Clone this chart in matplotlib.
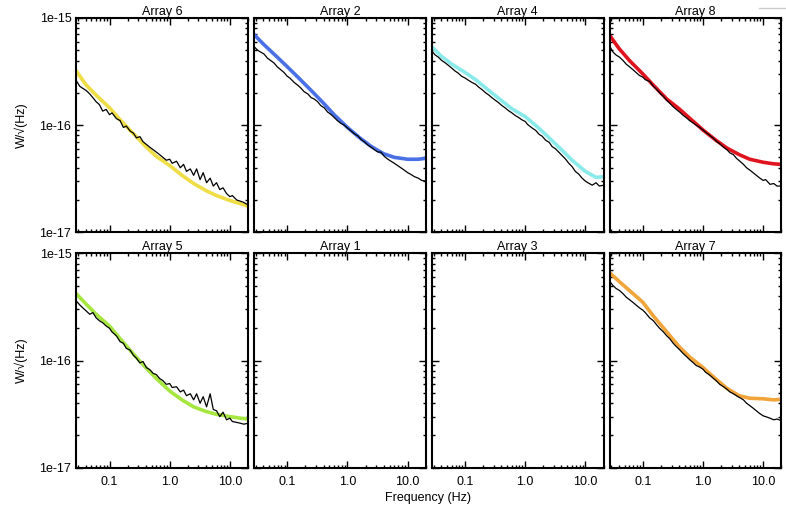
import numpy as np
import matplotlib
matplotlib.use("Agg")
import matplotlib.pyplot as plt
from matplotlib.ticker import FixedLocator, FixedFormatter, LogLocator, NullFormatter
from matplotlib.lines import Line2D

plt.rcParams['font.family'] = ['Liberation Sans', 'DejaVu Sans']

# frequency grid of the measured spectra (Hz)
freq = [0.028, 0.032, 0.036, 0.041, 0.047, 0.053, 0.06, 0.068, 0.077, 0.088,
        0.1, 0.11, 0.13, 0.15, 0.17, 0.19, 0.22, 0.25, 0.28, 0.32,
        0.36, 0.41, 0.47, 0.53, 0.6, 0.68, 0.77, 0.88, 1.0, 1.1,
        1.3, 1.5, 1.7, 1.9, 2.2, 2.5, 2.8, 3.2, 3.6, 4.1,
        4.7, 5.3, 6.0, 6.8, 7.7, 8.8, 10, 11, 13, 15, 17, 20]

# frequency grid of the model fits (Hz)
fit_freq = [0.028, 0.04, 0.06, 0.1, 0.15, 0.25, 0.4, 0.6, 1.0, 1.6, 2.5, 4, 6, 10, 15, 20]

# measured noise, units of 1e-17 W/sqrt(Hz)
meas6 = [26, 23, 22, 21, 19.5, 18, 16.5, 15.5, 13.5, 14,
         12.5, 13, 11.5, 11, 9.5, 9.8, 8.8, 8.4, 7.6, 7.8,
         7.0, 6.6, 6.2, 5.9, 5.6, 5.3, 5.0, 4.7, 4.8, 4.4,
         4.6, 4.0, 4.3, 3.7, 3.9, 3.4, 3.9, 3.1, 3.6, 2.9,
         3.2, 2.7, 2.9, 2.5, 2.6, 2.3, 2.15, 2.2, 2.0, 1.95, 1.9, 1.8]
meas2 = [54, 50, 48, 46, 42, 40, 38, 35, 33, 31,
         28.5, 27.5, 25, 23.5, 22, 20.5, 19.5, 18, 17.5, 16.5,
         15.2, 14.5, 13.2, 12.6, 11.8, 11.0, 10.4, 10.0, 9.4, 9.0,
         8.3, 7.9, 7.3, 7.0, 6.5, 6.2, 5.9, 5.6, 5.6, 5.1,
         4.8, 4.6, 4.4, 4.2, 4.0, 3.8, 3.6, 3.5, 3.3, 3.2, 3.05, 3.0]
meas4 = [49, 45, 43, 40, 38, 36, 34, 32, 30.5, 28.5,
         27.5, 26.5, 25, 24, 22.5, 21.5, 20, 19, 18, 17,
         16.2, 15.2, 14.4, 13.6, 13.0, 12.3, 11.8, 11.2, 10.8, 10.1,
         9.4, 8.9, 8.2, 7.9, 7.2, 6.9, 6.3, 6.0, 5.6, 5.2,
         4.8, 4.4, 4.1, 3.7, 3.5, 3.2, 3.0, 2.9, 2.75, 2.9, 2.7, 2.75]
meas8 = [55, 48, 45, 43, 40, 37, 35, 33, 31, 29,
         28, 26.5, 25.5, 23, 21.5, 20, 18.5, 17, 16, 14.8,
         14, 13.2, 12.3, 11.7, 11.0, 10.5, 10.0, 9.5, 9.0, 8.6,
         8.0, 7.5, 7.0, 6.7, 6.2, 5.9, 5.5, 5.3, 4.9, 4.6,
         4.3, 4.0, 3.8, 3.6, 3.4, 3.2, 3.05, 3.1, 2.8, 2.85, 2.7, 2.7]
meas5 = [36, 33, 31, 29, 27, 28, 25, 23.5, 22.5, 21,
         20, 18.5, 17, 15, 14.5, 13, 12.5, 11.2, 10.5, 9.5,
         9.8, 8.6, 8.2, 7.6, 7.4, 6.8, 6.5, 6.0, 6.1, 5.6,
         5.7, 5.1, 5.3, 4.7, 4.9, 4.3, 4.9, 4.0, 4.6, 3.7,
         4.9, 3.5, 3.4, 3.0, 3.3, 2.8, 2.9, 2.7, 2.65, 2.6, 2.55, 2.6]
meas7 = [55, 50, 47, 45, 42, 39, 37, 35, 33, 31,
         29.5, 28, 25, 23.5, 21.5, 20, 18.5, 17, 16, 14.5,
         13.5, 12.6, 11.6, 10.9, 10.2, 9.6, 9.0, 8.7, 8.3, 7.8,
         7.3, 6.8, 6.4, 6.0, 5.7, 5.4, 5.1, 4.9, 4.7, 4.5,
         4.3, 4.0, 3.8, 3.6, 3.4, 3.2, 3.05, 3.0, 2.9, 2.8, 2.85, 2.75]

# model fits, units of 1e-17 W/sqrt(Hz)
fit6 = [32, 24, 19, 14.5, 11.2, 8.3, 6.3, 5.1, 4.2, 3.4, 2.85, 2.45, 2.2, 1.98, 1.85, 1.75]
fit2 = [70, 57, 46, 35, 28, 21, 16, 12.5, 9.5, 7.6, 6.3, 5.4, 5.0, 4.8, 4.8, 4.9]
fit4 = [54, 44, 37, 31, 26.5, 21, 17, 14.2, 12, 9.6, 7.6, 5.9, 4.7, 3.7, 3.25, 3.3]
fit8 = [69, 52, 40, 30, 23.5, 17.5, 14.2, 11.6, 9.0, 7.3, 6.1, 5.3, 4.8, 4.5, 4.35, 4.3]
fit5 = [42, 34, 27, 21, 16, 11.5, 8.6, 6.8, 5.2, 4.3, 3.7, 3.35, 3.15, 3.0, 2.9, 2.85]
fit7 = [66, 55, 45, 35, 26, 18.5, 13.5, 10.8, 8.6, 6.8, 5.5, 4.7, 4.45, 4.4, 4.3, 4.35]

titles = ["Array 6", "Array 2", "Array 4", "Array 8",
          "Array 5", "Array 1", "Array 3", "Array 7"]
measured = [meas6, meas2, meas4, meas8, meas5, None, None, meas7]
fits = [fit6, fit2, fit4, fit8, fit5, None, None, fit7]
colors = ["#eedd44", "#4a70e6", "#8aeaea", "#e0141e",
          "#a6e640", None, None, "#f0a43a"]

fig, axes = plt.subplots(2, 4, figsize=(7.86, 5.25), dpi=100)
fig.subplots_adjust(left=0.097, right=0.994, top=0.966, bottom=0.109,
                    wspace=0.035, hspace=0.098)

for i, ax in enumerate(axes.flat):
    ax.set_xscale('log')
    ax.set_yscale('log')
    if fits[i] is not None:
        ax.plot(fit_freq, np.array(fits[i]) * 1e-17, color=colors[i], lw=2.6,
                solid_capstyle='round', solid_joinstyle='round')
        ax.plot(freq, np.array(measured[i]) * 1e-17, color='black', lw=0.9)
    ax.set_xlim(0.028, 20)
    ax.set_ylim(1e-17, 1e-15)
    ax.set_title(titles[i], fontsize=9, pad=2)

    ax.xaxis.set_major_locator(FixedLocator([0.1, 1.0, 10.0]))
    ax.xaxis.set_minor_locator(LogLocator(base=10, subs=np.arange(2, 10)))
    ax.xaxis.set_minor_formatter(NullFormatter())
    ax.yaxis.set_major_locator(FixedLocator([1e-17, 1e-16, 1e-15]))
    ax.yaxis.set_minor_locator(LogLocator(base=10, subs=np.arange(2, 10)))
    ax.yaxis.set_minor_formatter(NullFormatter())
    ax.tick_params(which='both', direction='in', top=True, right=True,
                   width=1.0, labelsize=9)
    ax.tick_params(which='major', length=5)
    ax.tick_params(axis='x', which='major', pad=6)
    ax.tick_params(which='minor', length=2.5)
    for s in ax.spines.values():
        s.set_linewidth(1.5)

    if i >= 4:
        ax.xaxis.set_major_formatter(FixedFormatter(["0.1", "1.0", "10.0"]))
    else:
        ax.set_xticklabels([])
    if i % 4 == 0:
        ax.yaxis.set_major_formatter(FixedFormatter(["1e-17", "1e-16", "1e-15"]))
        ax.set_ylabel("W/\u221a(Hz)", fontsize=9, labelpad=8)
    else:
        ax.set_yticklabels([])

fig.text(0.545, 0.051, "Frequency (Hz)", ha='center', va='center', fontsize=9)
fig.add_artist(Line2D([0.966, 1.0], [0.985, 0.985], color='#cccccc', lw=1.0))

plt.savefig("out.png", dpi=100)
